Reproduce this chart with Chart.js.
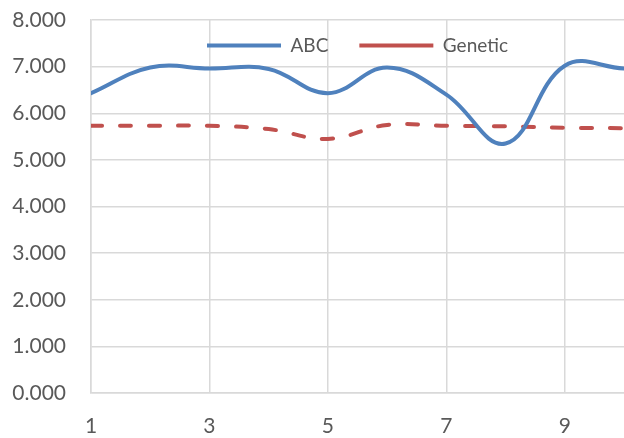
<!DOCTYPE html>
<html>
<head>
<meta charset="utf-8">
<script src="https://cdn.jsdelivr.net/npm/chart.js@4"></script>
<style>
  html, body { margin: 0; padding: 0; background: #fff; }
  #wrap { width: 624px; height: 438px; }
</style>
</head>
<body>
<div id="wrap"><canvas id="myChart" width="624" height="438"></canvas></div>
<script>
"use strict";

const xValues = [1, 2, 3, 4, 5, 6, 7, 8, 9, 10];
const xTickValues = [1, 3, 5, 7, 9];
const abcValues = [6.43, 6.98, 6.96, 6.95, 6.43, 6.98, 6.40, 5.35, 7.02, 6.96];
const geneticValues = [5.73, 5.73, 5.73, 5.66, 5.45, 5.75, 5.73, 5.72, 5.69, 5.68];
const seriesNames = ["ABC", "Genetic"];

const ctx = document.getElementById("myChart");

const toPoints = (values) => xValues.map((x, i) => ({ x: x, y: values[i] }));

// legend sits inside the plot, but laid out in one row
const rowLegend = {
  id: "rowLegend",
  beforeUpdate: (chart) => {
    if (chart.legend) {
      chart.legend.isHorizontal = () => true;
    }
  },
  afterLayout: (chart) => {
    const legend = chart.legend;
    const area = chart.chartArea;
    if (!legend) return;
    legend.left = area.left;
    legend.right = area.right;
    legend.width = area.right - area.left;
    legend.top = area.top - 15;
    legend.bottom = legend.top + legend.height;
  },
};

new Chart(ctx, {
  type: "line",
  data: {
    datasets: [
      {
        label: seriesNames[0],
        data: toPoints(abcValues),
        borderColor: "#4f81bd",
        backgroundColor: "#4f81bd",
        borderWidth: 4,
        pointRadius: 0,
        tension: 0.4,
        borderCapStyle: "round",
      },
      {
        label: seriesNames[1],
        data: toPoints(geneticValues),
        borderColor: "#c0504d",
        backgroundColor: "#c0504d",
        borderWidth: 4,
        borderDash: [11, 18],
        borderCapStyle: "round",
        pointRadius: 0,
        tension: 0.4,
      },
    ],
  },
  plugins: [rowLegend],
  options: {
    responsive: false,
    animation: false,
    layout: { padding: { top: 20, right: 0, left: 0, bottom: 0 } },
    plugins: {
      tooltip: { enabled: false },
      legend: {
        position: "chartArea",
        align: "center",
        labels: {
          usePointStyle: true,
          pointStyle: "line",
          pointStyleWidth: 74,
          boxHeight: 19,
          padding: 31,
          color: "#595959",
          font: { family: "Lato", size: 19 },
        },
      },
    },
    scales: {
      x: {
        type: "linear",
        min: 1,
        max: 10,
        afterBuildTicks: (scale) => {
          scale.ticks = xTickValues.map((v) => ({ value: v }));
        },
        ticks: {
          padding: 21,
          color: "#595959",
          font: { family: "Lato", size: 21 },
        },
        grid: { color: "#d9d9d9", lineWidth: 1.5, drawTicks: false },
        border: { color: "#d9d9d9", width: 1.5 },
        afterFit: (scale) => { scale.height = 45; },
      },
      y: {
        min: 0,
        max: 8,
        ticks: {
          stepSize: 1,
          padding: 25,
          color: "#595959",
          font: { family: "Lato", size: 21 },
          callback: (v) => v.toFixed(3),
        },
        grid: { color: "#d9d9d9", lineWidth: 1.5, drawTicks: false },
        border: { color: "#d9d9d9", width: 1.5 },
        afterFit: (scale) => {
          scale.width = 91;
          scale.paddingTop = 0;
          scale.paddingBottom = 0;
        },
      },
    },
  },
});
</script>
</body>
</html>
